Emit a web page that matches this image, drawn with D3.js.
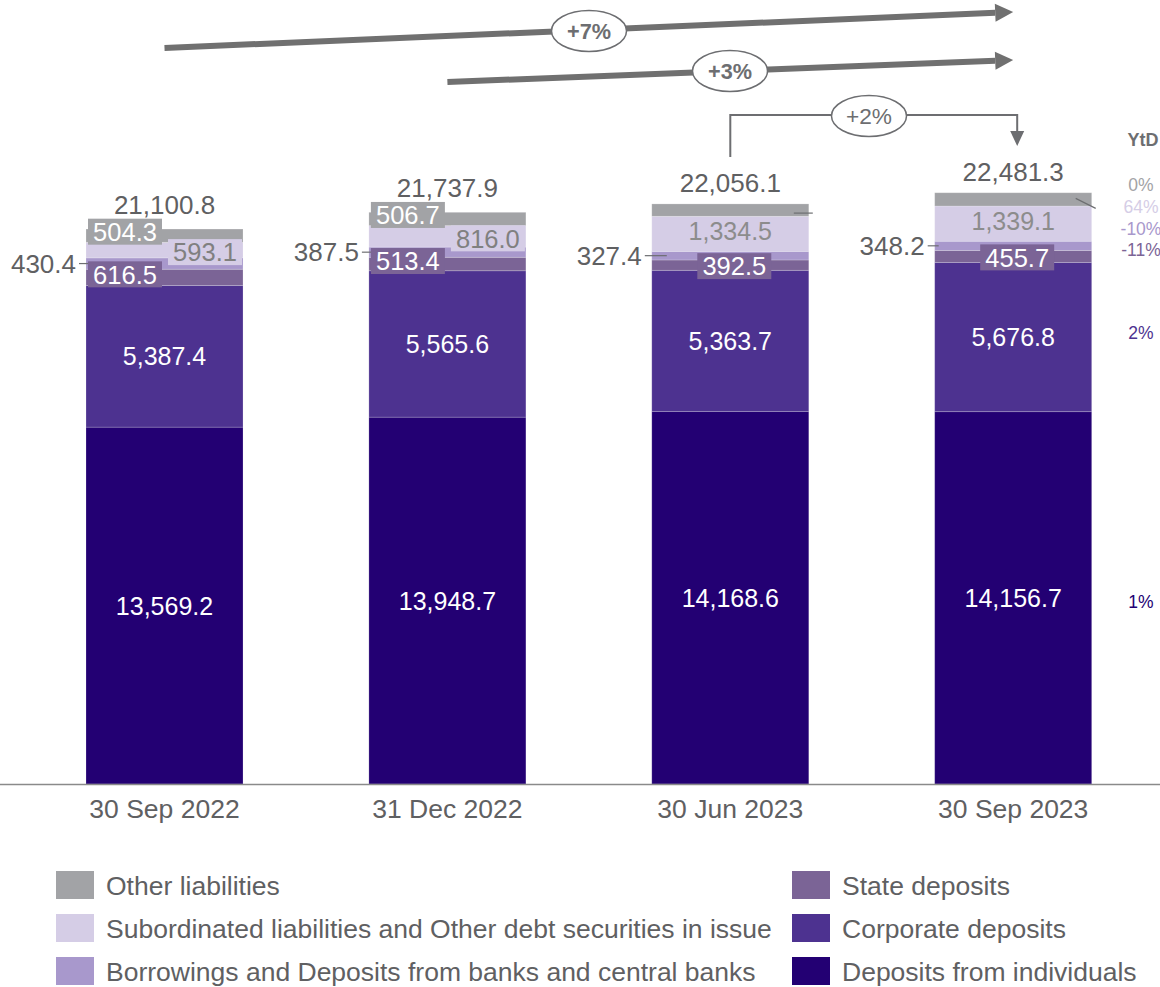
<!DOCTYPE html>
<html><head><meta charset="utf-8">
<script src="https://cdn.jsdelivr.net/npm/d3@7"></script>
<style>
body{margin:0;background:#fff;}
svg{font-family:"Liberation Sans",Arial,sans-serif;}
</style></head>
<body><svg id="c" width="1160" height="987"></svg>
<script>
const categories = ["30 Sep 2022","31 Dec 2022","30 Jun 2023","30 Sep 2023"];
const individuals = [13569.2,13948.7,14168.6,14156.7];
const corporate = [5387.4,5565.6,5363.7,5676.8];
const stateDep = [616.5,513.4,392.5,455.7];
const borrowings = [430.4,387.5,327.4,348.2];
const subordinated = [593.1,816.0,1334.5,1339.1];
const otherLiab = [504.3,506.7,469.4,504.8];
const totals = [21100.8,21737.9,22056.1,22481.3];
const seriesNames = ["Deposits from individuals","Corporate deposits","State deposits",
  "Borrowings and Deposits from banks and central banks",
  "Subordinated liabilities and Other debt securities in issue","Other liabilities"];
const ytdLabels = ["1%","2%","-11%","-10%","64%","0%"];
const growthLabels = ["+7%","+3%","+2%"];

const colors = ["#230073","#4d3290","#7b6496","#a898cc","#d5cde6","#a2a3a6"];
const series = [individuals,corporate,stateDep,borrowings,subordinated,otherLiab];
const gray = "#5f6062";

const svg = d3.select("#c");
const x = d3.scaleBand().domain(categories).range([86,1091.7]).paddingInner(0.445).paddingOuter(0);
const y = d3.scaleLinear().domain([0,25000]).range([784,784-657.5]);
const bw = x.bandwidth();

const rows = categories.map((c,i)=>{const o={cat:c}; series.forEach((s,k)=>o["s"+k]=s[i]); return o;});
const stack = d3.stack().keys(series.map((s,k)=>"s"+k))(rows);

const g = svg.append("g");
stack.forEach((layer,k)=>{
  g.selectAll(null).data(layer).enter().append("rect")
    .attr("x",d=>x(d.data.cat)).attr("width",bw)
    .attr("y",d=>y(d[1])).attr("height",d=>y(d[0])-y(d[1]))
    .attr("fill",colors[k]).attr("stroke","rgba(255,255,255,0.25)").attr("stroke-width",0.8);
});

svg.append("line").attr("x1",0).attr("x2",1160).attr("y1",y(0)+0.5).attr("y2",y(0)+0.5)
  .attr("stroke","#8a8a8a").attr("stroke-width",1.5);
const xAxis = d3.axisBottom(x).tickSize(0).tickPadding(15);
const ax = svg.append("g").attr("transform",`translate(0,${y(0)})`).call(xAxis);
ax.select(".domain").remove();
ax.selectAll("text").attr("font-size",26.5).attr("fill",gray).attr("font-family","Liberation Sans, Arial, sans-serif");

const fmt = d3.format(",.1f");
const mid = (k,i)=> (y(stack[k][i][0])+y(stack[k][i][1]))/2;
const FS = 25;

function boxLabel(cx,cy,txt,fill,tcol){
  const w = 74, h=26;
  svg.append("rect").attr("x",cx-w/2).attr("y",cy-h/2).attr("width",w).attr("height",h).attr("fill",fill);
  svg.append("text").attr("x",cx).attr("y",cy+9.3).attr("text-anchor","middle")
    .attr("font-size",25.5).attr("fill",tcol).text(txt);
}
function plainLabel(cx,cy,txt,col){
  svg.append("text").attr("x",cx).attr("y",cy+9.1).attr("text-anchor","middle")
    .attr("font-size",FS).attr("fill",col).text(txt);
}
function leader(x1,y1,x2,y2){
  svg.append("line").attr("x1",x1).attr("y1",y1).attr("x2",x2).attr("y2",y2)
    .attr("stroke","#6d6e71").attr("stroke-width",1.2);
}

categories.forEach((c,i)=>{
  const x0 = x(c), cx = x0+bw/2;
  plainLabel(cx, mid(0,i), fmt(individuals[i]), "#fff");
  plainLabel(cx, mid(1,i), fmt(corporate[i]), "#fff");
  svg.append("text").attr("x",cx).attr("y",y(totals[i])-(i<2?15:11.5)).attr("text-anchor","middle")
    .attr("font-size",26).attr("fill",gray).text(fmt(totals[i]));
  const by = mid(3,i);
  svg.append("text").attr("x",x0-10).attr("y",by+9).attr("text-anchor","end")
    .attr("font-size",26).attr("fill",gray).text(fmt(borrowings[i]));
  leader(x0-7,by,x0+(i==2?15:4),by);
  if(i<2){
    boxLabel(x0+39, mid(5,i)-4, fmt(otherLiab[i]), colors[5], "#fff");
    boxLabel(x0+bw-38, mid(4,i)+2, fmt(subordinated[i]), colors[4], "#808080");
    boxLabel(x0+39, mid(2,i)-3, fmt(stateDep[i]), colors[2], "#fff");
  } else {
    plainLabel(cx, mid(4,i)-3, fmt(subordinated[i]), "#8c8c8c");
    boxLabel(cx+4, mid(2,i)+1, fmt(stateDep[i]), colors[2], "#fff");
    if(i==2) leader(x0+bw-15, mid(5,i)+3, x0+bw+4, mid(5,i)+3);
    else leader(x0+bw-16, mid(5,i)-1, x0+bw+4, mid(5,i)+9);
  }
});

const ytdX = 1141;
svg.append("text").attr("x",ytdX+2).attr("y",146).attr("text-anchor","middle")
  .attr("font-size",18).attr("font-weight","bold").attr("fill","#6d6e71").text("YtD");
const ytdY = [mid(0,3)+4, mid(1,3)-4, 250, 229, 207, 185];
ytdLabels.forEach((t,k)=>{
  svg.append("text").attr("x",ytdX).attr("y",ytdY[k]+6).attr("text-anchor","middle")
    .attr("font-size",17.5).attr("fill",colors[k]).text(t);
});

const arrCol = "#707070";
function thickArrow(x1,y1,x2,y2){
  const ang = Math.atan2(y2-y1,x2-x1), L=18, W=9;
  const bx = x2-L*Math.cos(ang), by = y2-L*Math.sin(ang);
  svg.append("line").attr("x1",x1).attr("y1",y1).attr("x2",bx).attr("y2",by)
    .attr("stroke",arrCol).attr("stroke-width",6);
  const px = -Math.sin(ang)*W, py = Math.cos(ang)*W;
  svg.append("path").attr("d",`M${x2},${y2}L${bx+px},${by+py}L${bx-px},${by-py}Z`).attr("fill",arrCol);
}
function bubble(cx,cy,t,bold){
  svg.append("ellipse").attr("cx",cx).attr("cy",cy).attr("rx",37.5).attr("ry",20.5)
    .attr("fill","#fff").attr("stroke","#6d6e71").attr("stroke-width",1.5);
  svg.append("text").attr("x",cx).attr("y",cy+8).attr("text-anchor","middle")
    .attr("font-size",22).attr("font-weight",bold?"bold":"normal").attr("fill","#6d6e71")
    .attr("textLength",bold?44:46).attr("lengthAdjust","spacingAndGlyphs").text(t);
}
const c1 = x(categories[0])+bw/2, c2 = x(categories[1])+bw/2, c3 = x(categories[2])+bw/2, c4 = x(categories[3])+bw/2;
thickArrow(c1,48,c4,12);
bubble(589,31,growthLabels[0],true);
thickArrow(c2,82,c4,60);
bubble(730,71,growthLabels[1],true);
svg.append("path").attr("d",`M${c3},157V115H${c4+4}V132`).attr("fill","none")
  .attr("stroke","#6d6e71").attr("stroke-width",2);
svg.append("path").attr("d",`M${c4-3},131H${c4+11}L${c4+4},146Z`).attr("fill","#6d6e71");
bubble(869,116,growthLabels[2],false);

const legendOrder = [[5,0],[4,1],[3,2],[2,3],[1,4],[0,5]];
legendOrder.forEach(([k,pos])=>{
  const col = pos<3?0:1, row = pos%3;
  const lx = col? 792:56, ly = 871+row*43;
  svg.append("rect").attr("x",lx).attr("y",ly).attr("width",38).attr("height",28).attr("fill",colors[k]);
  svg.append("text").attr("x",lx+50).attr("y",ly+24).attr("font-size",26.5).attr("fill",gray).text(seriesNames[k]);
});
</script></body></html>
